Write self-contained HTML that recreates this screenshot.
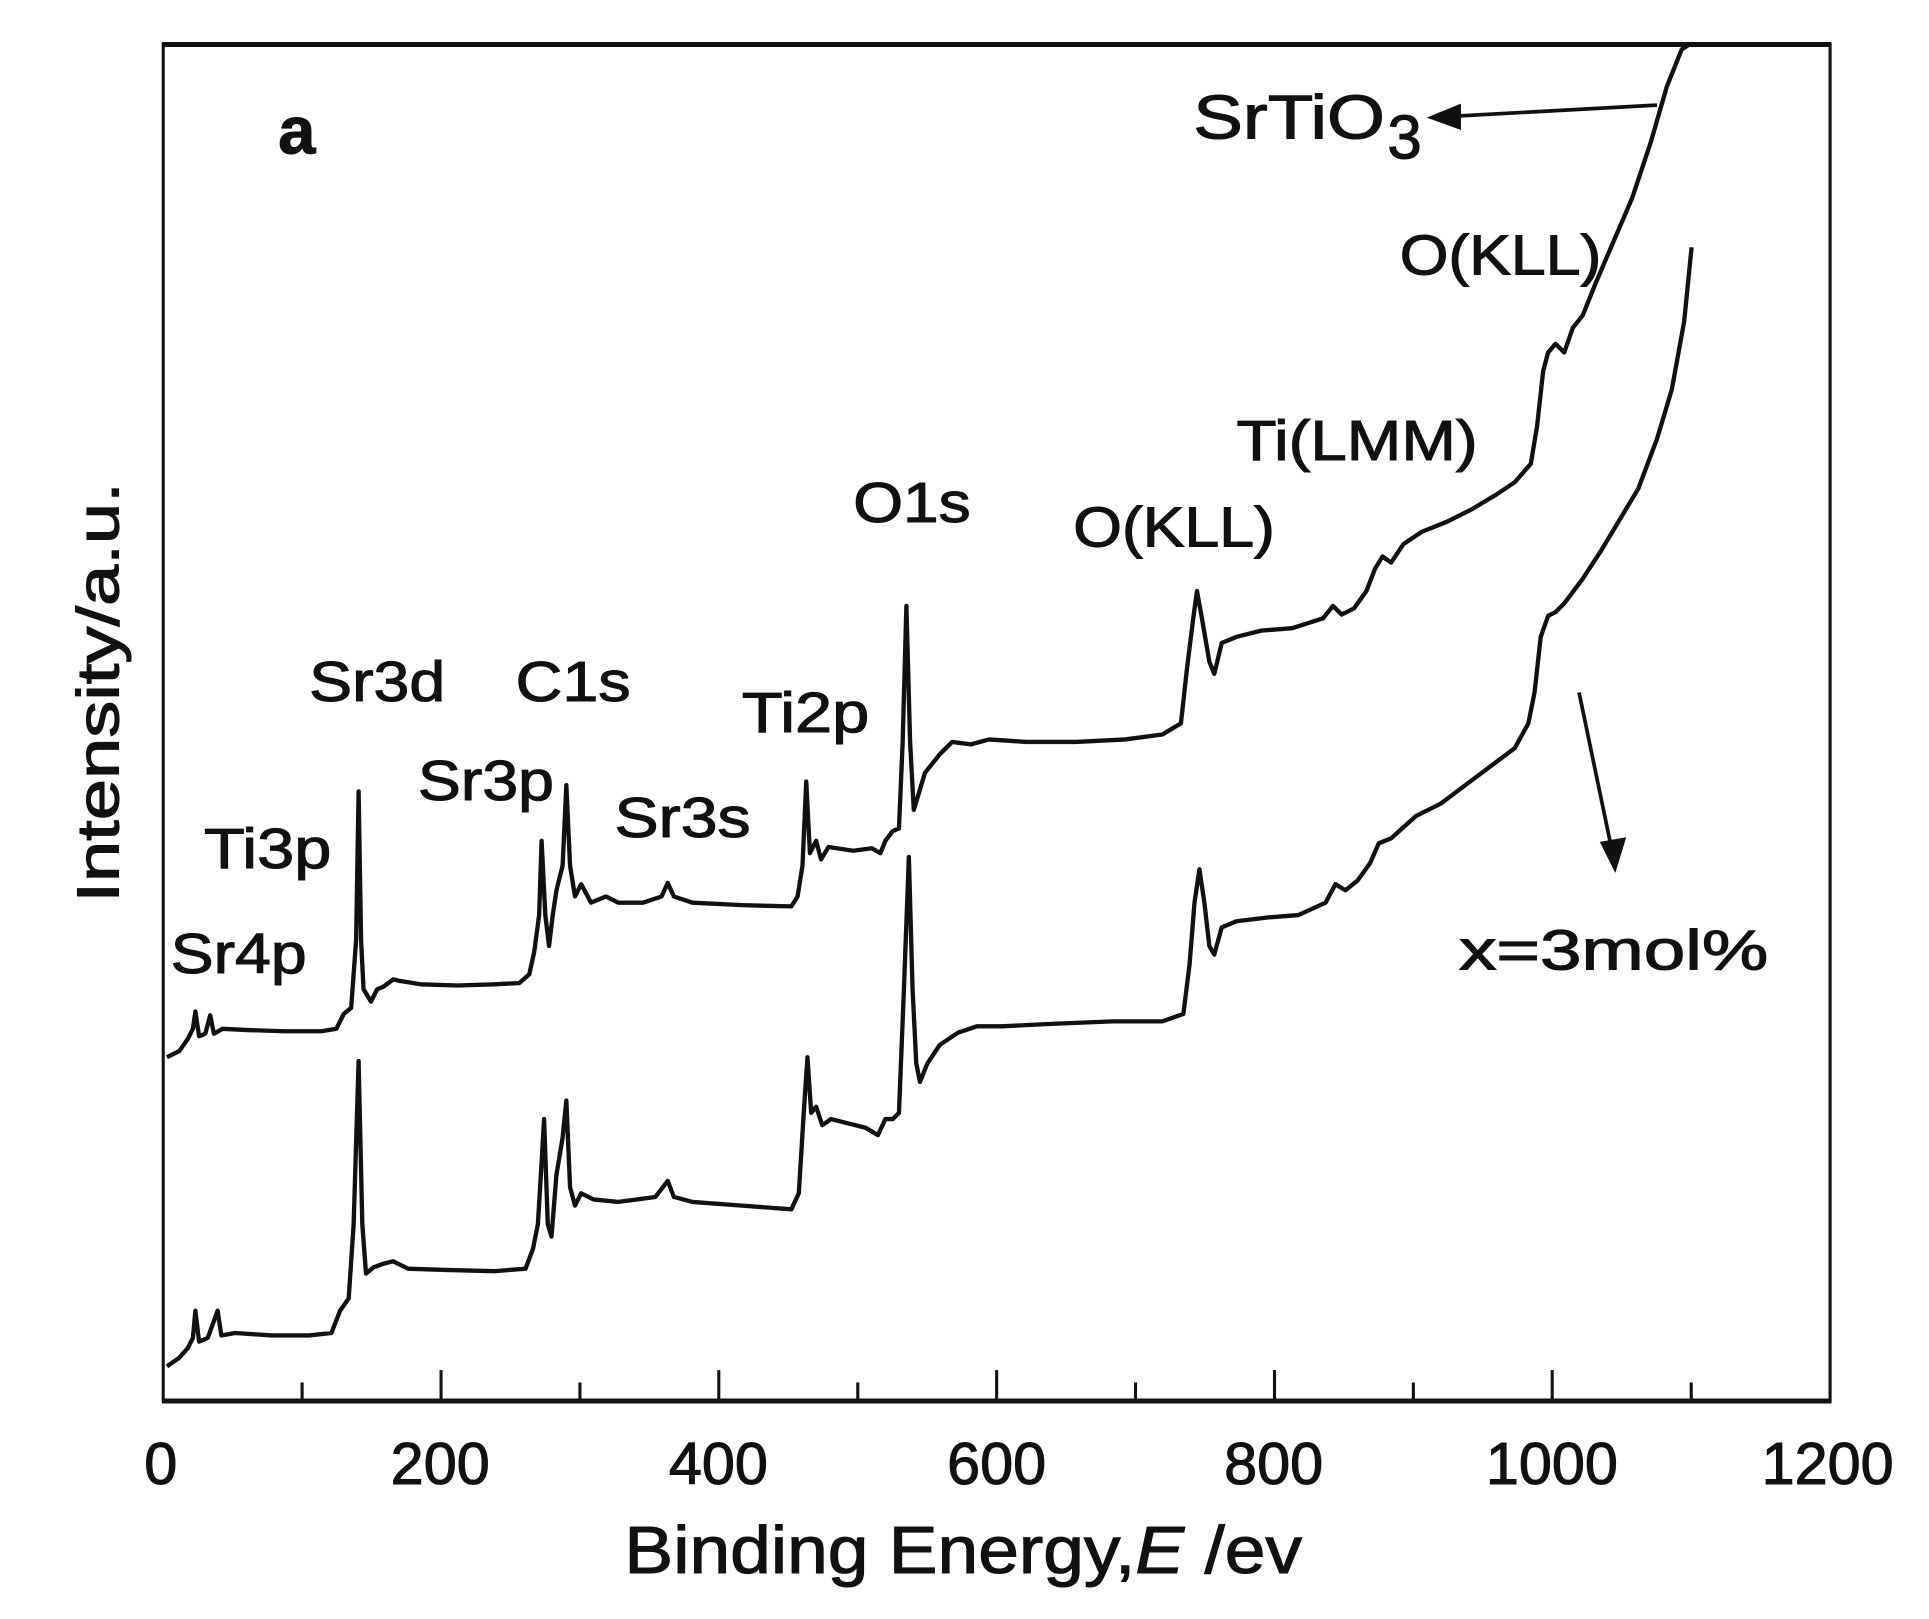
<!DOCTYPE html>
<html><head><meta charset="utf-8"><style>
html,body{margin:0;padding:0;background:#fff;}
svg{display:block;}
text{font-family:"Liberation Sans",Arial,sans-serif;fill:#111;stroke:#111;stroke-width:0.9;}
</style></head><body>
<svg width="1929" height="1619" viewBox="0 0 1560 1309.3" preserveAspectRatio="none" xmlns="http://www.w3.org/2000/svg">
<rect width="1560" height="1310" fill="#fff"/>
<rect x="132" y="36" width="1348" height="1097" fill="none" stroke="#111" stroke-width="2.5"/>
<line x1="131" y1="36" x2="1481" y2="36" stroke="#111" stroke-width="4"/>
<line x1="131" y1="1133" x2="1481" y2="1133" stroke="#111" stroke-width="4"/>
<g stroke="#111" stroke-width="2.5">
<line x1="356.7" y1="1133" x2="356.7" y2="1108"/>
<line x1="581.3" y1="1133" x2="581.3" y2="1108"/>
<line x1="806" y1="1133" x2="806" y2="1108"/>
<line x1="1030.7" y1="1133" x2="1030.7" y2="1108"/>
<line x1="1255.3" y1="1133" x2="1255.3" y2="1108"/>
<line x1="244.3" y1="1133" x2="244.3" y2="1118"/>
<line x1="469" y1="1133" x2="469" y2="1118"/>
<line x1="693.7" y1="1133" x2="693.7" y2="1118"/>
<line x1="918.3" y1="1133" x2="918.3" y2="1118"/>
<line x1="1143" y1="1133" x2="1143" y2="1118"/>
<line x1="1367.7" y1="1133" x2="1367.7" y2="1118"/>
</g>
<g font-size="48" text-anchor="middle">
<text x="130" y="1200">0</text>
<text x="356" y="1200">200</text>
<text x="581" y="1200">400</text>
<text x="806" y="1200">600</text>
<text x="1030" y="1200">800</text>
<text x="1255" y="1200">1000</text>
<text x="1478" y="1200">1200</text>
</g>
<text x="505" y="1272" font-size="54" textLength="548" lengthAdjust="spacingAndGlyphs">Binding Energy,<tspan font-style="italic">E</tspan> /ev</text>
<text transform="translate(96,730) rotate(-90)" font-size="48" textLength="340" lengthAdjust="spacingAndGlyphs">Intensity/a.u.</text>
<g fill="none" stroke="#111" stroke-width="3.5" stroke-linejoin="round">
<polyline points="135,855 145,850 152,840 156,832 158,818 161,838 166,836 170,821 173,836 180,832 200,833 230,834 260,834 272,832 278,820 284,815 288,760 290,640 292,760 294,800 300,810 305,800 310,798 318,792 322,793 340,796 370,797 400,796 420,795 428,788 432,770 436,740 438,680 441,740 444,765 447,740 450,720 455,700 458,635 461,700 465,725 470,715 478,730 490,725 500,730 520,730 535,725 540,714 545,725 560,730 600,732 640,733 645,725 649,700 652,632 655,690 660,680 664,695 670,685 690,688 705,686 712,690 716,680 722,672 727,670 730,600 733,490 736,600 739,655 742,645 748,625 760,610 770,600 785,602 800,598 830,600 870,600 910,598 940,594 955,585 960,540 965,500 968,478 972,500 978,535 982,545 988,520 1000,515 1020,510 1045,508 1070,500 1078,490 1085,497 1095,492 1105,478 1112,460 1118,450 1125,455 1135,440 1150,430 1170,422 1190,412 1210,400 1225,390 1238,375 1243,345 1248,300 1252,285 1258,278 1265,285 1272,265 1280,255 1290,230 1305,195 1320,160 1335,115 1348,70 1360,40 1366,36"/>
<polyline points="135,1105 145,1098 152,1090 156,1082 158,1060 161,1085 168,1082 176,1060 179,1080 190,1078 220,1080 250,1080 268,1078 275,1060 282,1050 286,990 290,858 293,990 296,1030 302,1025 310,1022 318,1020 330,1026 360,1027 400,1028 425,1026 431,1010 435,990 438,940 440,905 443,990 446,1000 450,950 455,920 458,890 461,960 465,975 470,965 480,970 500,972 530,968 540,955 545,968 560,972 600,975 640,978 646,965 650,900 653,855 656,900 660,895 665,910 672,905 700,912 710,918 716,905 722,905 727,900 731,800 735,693 738,800 741,860 744,875 750,860 760,845 775,835 790,830 810,830 850,828 900,826 940,826 957,820 962,780 966,730 970,703 974,730 978,765 982,772 988,750 1000,745 1025,742 1050,740 1072,730 1080,715 1088,720 1098,712 1108,698 1115,682 1125,678 1145,660 1165,650 1185,635 1205,620 1225,605 1236,585 1241,560 1246,515 1252,498 1258,495 1265,488 1280,468 1295,445 1310,420 1325,395 1340,355 1352,315 1362,260 1368,200"/>
</g>
<g stroke="#111" stroke-width="3" fill="#111">
<line x1="1340" y1="85" x2="1175" y2="94"/>
<polygon points="1158,95 1180,86 1180,103"/>
<line x1="1277" y1="560" x2="1303" y2="685"/>
<polygon points="1306,702 1296,682 1313,679"/>
</g>
<g font-size="46">
<text x="225" y="124" font-size="54" font-weight="bold">a</text>
<text x="965" y="112" font-size="50" textLength="155" lengthAdjust="spacingAndGlyphs">SrTiO</text>
<text x="1122" y="128" font-size="50">3</text>
<text x="1132" y="222" textLength="163" lengthAdjust="spacingAndGlyphs">O(KLL)</text>
<text x="1000" y="372" textLength="195" lengthAdjust="spacingAndGlyphs">Ti(LMM)</text>
<text x="690" y="422" textLength="95" lengthAdjust="spacingAndGlyphs">O1s</text>
<text x="868" y="442" textLength="163" lengthAdjust="spacingAndGlyphs">O(KLL)</text>
<text x="250" y="567" textLength="110" lengthAdjust="spacingAndGlyphs">Sr3d</text>
<text x="417" y="567" textLength="93" lengthAdjust="spacingAndGlyphs">C1s</text>
<text x="600" y="592" textLength="103" lengthAdjust="spacingAndGlyphs">Ti2p</text>
<text x="338" y="647" textLength="110" lengthAdjust="spacingAndGlyphs">Sr3p</text>
<text x="497" y="677" textLength="110" lengthAdjust="spacingAndGlyphs">Sr3s</text>
<text x="165" y="702" textLength="103" lengthAdjust="spacingAndGlyphs">Ti3p</text>
<text x="138" y="787" textLength="110" lengthAdjust="spacingAndGlyphs">Sr4p</text>
<text x="1180" y="784" textLength="250" lengthAdjust="spacingAndGlyphs">x=3mol%</text>
</g>
</svg>
</body></html>
